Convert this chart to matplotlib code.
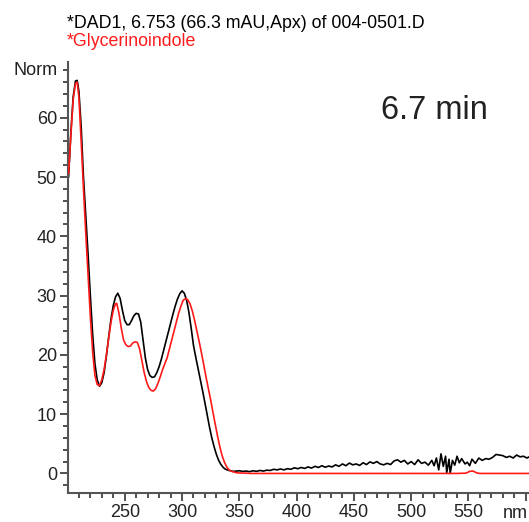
#!/usr/bin/env python3
"""UV spectrum overlay: DAD1 apex spectrum at 6.753 min vs. library Glycerinoindole."""
import matplotlib
matplotlib.use("Agg")
import matplotlib.pyplot as plt
from matplotlib.ticker import MultipleLocator, FixedLocator

plt.rcParams["font.family"] = ["Liberation Sans", "DejaVu Sans"]

# measured spectrum (black), wavelength nm / normalised absorbance
black_wl = [201, 203, 205, 207, 208.5, 210, 212, 214, 216, 218, 220, 222, 224, 226, 228,
            230, 232, 234, 236, 238, 240, 242, 244, 246, 248, 250, 252, 254, 256, 258,
            260, 262, 264, 266, 268, 270, 272, 274, 276, 278, 280, 282, 284, 286, 288,
            290, 292, 294, 296, 298, 300, 302, 304, 306, 308, 310, 312, 314, 316, 318,
            320, 322, 324, 326, 328, 330, 332, 334, 336, 338, 341, 345,
            350, 353, 356, 359, 362, 365, 368, 371, 374, 377, 380, 383, 386, 389, 392,
            395, 398, 401, 404, 407, 410, 413, 416, 419, 422, 425, 428, 431, 434, 437,
            440, 443, 446, 449, 452, 455, 458, 461, 464, 467, 470, 473, 476, 479, 482,
            485, 488, 491, 494, 497, 500, 503, 506, 509, 512, 515, 518, 520, 522, 524,
            526, 528, 530, 531, 533, 534, 536, 538, 540, 542, 544, 547, 549, 551, 553,
            556, 559, 562, 565, 568, 571, 574, 577, 580, 583, 586, 589, 592, 595, 598,
            601, 603]
black_val = [50.0, 57.5, 63.5, 66.2, 66.3, 64.5, 58.5, 50.0, 43.5, 37.0, 30.0, 23.5, 18.5, 15.8, 14.7,
             15.3, 17.0, 19.8, 23.0, 26.0, 28.3, 29.8, 30.4, 29.5, 27.5, 25.8, 25.1, 25.1, 25.8, 26.6,
             27.0, 26.9, 25.5, 22.5, 19.5, 17.5, 16.5, 16.2, 16.3, 17.0, 18.0, 19.3, 20.8, 22.3, 23.8,
             25.3, 26.8, 28.2, 29.4, 30.3, 30.8, 30.4, 29.2, 27.2, 24.5, 21.6, 19.6, 17.7, 15.8, 13.9,
             11.9, 9.8, 7.8, 6.0, 4.5, 3.2, 2.2, 1.5, 1.0, 0.7, 0.5, 0.35,
             0.45, 0.35, 0.4, 0.3, 0.45, 0.35, 0.5, 0.4, 0.55, 0.5, 0.7, 0.6, 0.75, 0.6, 0.8,
             0.7, 0.95, 0.8, 1.0, 0.85, 1.1, 0.9, 1.2, 1.0, 1.3, 1.05, 1.25, 1.1, 1.45, 1.2,
             1.6, 1.3, 1.75, 1.45, 1.6, 1.35, 1.8, 1.5, 1.95, 1.7, 2.0, 1.6, 1.45, 1.7, 1.5,
             2.1, 2.3, 1.9, 2.2, 1.6, 2.0, 1.5, 2.3, 1.7, 1.9, 1.4, 2.2, 1.3, 2.6, 0.6,
             3.3, 1.2, 2.9, 0.1, 2.4, 0.0, 2.2, 1.4, 2.9, 1.8, 2.5, 1.6, 1.9, 1.3, 2.4,
             1.7, 2.6, 2.2, 2.5, 2.4, 2.7, 3.2, 3.1, 3.0, 2.7, 2.9, 2.6, 3.1, 2.8, 2.9,
             2.6, 2.8]

# library spectrum (red)
red_wl = [201, 203, 205, 207, 208.5, 210, 212, 214, 216, 218, 220, 222, 224, 226, 228,
          230, 232, 234, 236, 238, 240, 242, 243, 245, 247, 249, 251, 253, 255, 257,
          259, 261, 263, 265, 267, 269, 271, 273, 275, 277, 279, 281, 283, 285, 287,
          289, 291, 293, 295, 297, 299, 301, 303, 305, 307, 309, 311, 313, 315, 317,
          319, 321, 323, 325, 327, 329, 331, 333, 335, 337, 339, 341, 344, 348, 355, 360,
          540, 548, 551, 554, 557, 560, 603]
red_val = [50.6, 57.0, 63.0, 65.8, 66.0, 63.5, 56.0, 48.0, 40.5, 33.5, 26.5, 20.5, 16.5, 15.0, 14.8,
           15.8, 17.5, 20.0, 22.8, 25.5, 27.5, 28.6, 28.7, 27.0, 24.5, 22.5, 21.7, 21.4, 21.5, 22.0,
           22.2, 22.1, 21.0, 19.0, 17.0, 15.5, 14.5, 14.0, 13.9, 14.3, 15.2, 16.3, 17.5, 18.5, 19.5,
           21.0, 22.5, 24.0, 25.5, 27.0, 28.2, 29.2, 29.5, 29.3, 28.6, 27.4, 25.8, 24.0, 22.2, 20.3,
           18.3, 16.2, 14.3, 12.4, 10.3, 8.3, 6.3, 4.5, 3.0, 1.9, 1.1, 0.6, 0.3, 0.1, 0.05, 0.0,
           0.0, 0.05, 0.35, 0.4, 0.1, 0.0, 0.0]

y_ticks = [0, 10, 20, 30, 40, 50, 60]
x_ticks = [250, 300, 350, 400, 450, 500, 550, 600]
x_labels = ["250", "300", "350", "400", "450", "500", "550", ""]

W, H = 529, 522
fig = plt.figure(figsize=(W / 100, H / 100), dpi=100)
ax = fig.add_axes([68 / W, (H - 493) / H, (W - 68) / W, (493 - 62) / H])

ax.plot(black_wl, black_val, color="black", lw=1.2, zorder=2)
ax.plot(red_wl, red_val, color="#ff1a1a", lw=1.2, zorder=3)

ax.set_xlim(200.5, 602.8)
ax.set_ylim(-3.3, 69.4)

for side in ("top", "right"):
    ax.spines[side].set_visible(False)
for side in ("left", "bottom"):
    ax.spines[side].set_color("#555555")
    ax.spines[side].set_linewidth(1.5)

ax.yaxis.set_major_locator(FixedLocator(y_ticks))
ax.yaxis.set_minor_locator(MultipleLocator(2))
ax.xaxis.set_major_locator(FixedLocator(x_ticks))
ax.xaxis.set_minor_locator(MultipleLocator(10))
ax.set_xticklabels(x_labels)
ax.tick_params(which="major", length=6, width=1.1, color="#222222",
               labelsize=13, pad=2, labelcolor="#222222")
ax.tick_params(which="minor", length=3.5, width=1.1, color="#222222")

ax.text(-0.022, 68, "Norm", transform=ax.get_yaxis_transform(), ha="right",
        va="center", fontsize=13, color="#222222")
fig.text(528 / W, 1 - 518 / H, "nm", fontsize=13, color="#222222",
         ha="right", va="baseline")

fig.text(381 / W, 1 - 119 / H, "6.7 min", fontsize=23.5, color="#222222",
         ha="left", va="baseline")
fig.text(67 / W, 1 - 27.5 / H, "*DAD1, 6.753 (66.3 mAU,Apx) of 004-0501.D",
         fontsize=12.8, color="black", ha="left", va="baseline")
fig.text(67 / W, 1 - 45.5 / H, "*Glycerinoindole", fontsize=12.8, color="#ff1a1a",
         ha="left", va="baseline")

fig.savefig("out.png", dpi=100)
